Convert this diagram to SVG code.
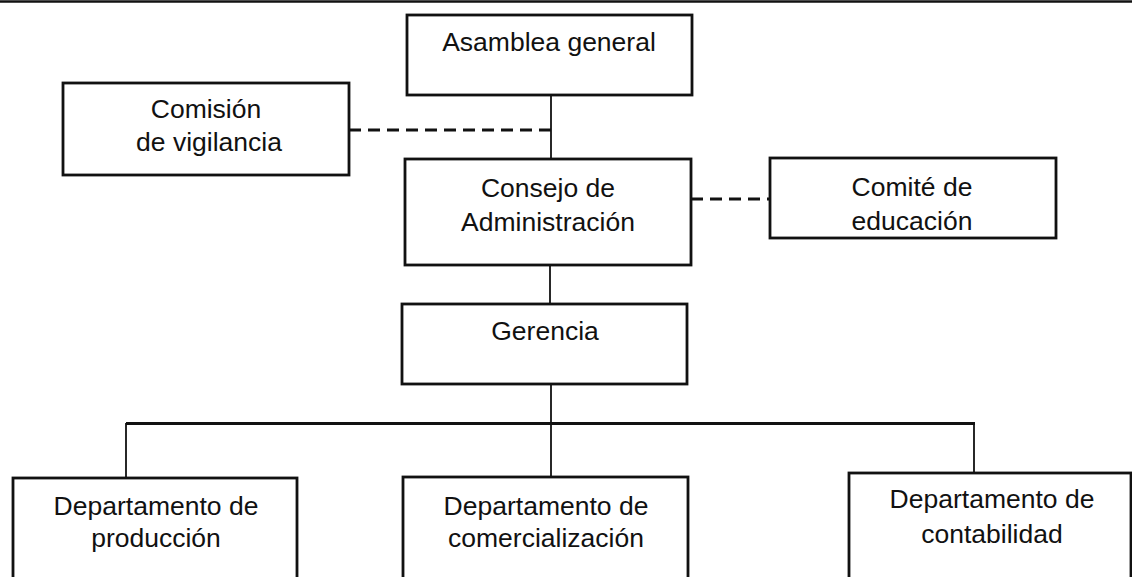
<svg xmlns="http://www.w3.org/2000/svg" width="1132" height="577" viewBox="0 0 1132 577">
<style>
.box{fill:#fff;stroke:#111;stroke-width:2.8}
.t{font-family:"Liberation Sans",Arial,sans-serif;font-size:26.5px;fill:#111;text-anchor:middle}
.ln{stroke:#111;stroke-width:1.8;fill:none}
.bus{stroke:#111;stroke-width:2.8;fill:none}
.dash{stroke:#111;stroke-width:3;fill:none;stroke-dasharray:12 7}
</style>
<rect width="1132" height="577" fill="#fff"/>
<line x1="0" y1="1.5" x2="1132" y2="1.5" stroke="#111" stroke-width="2.5"/>
<g id="connectors">
<line class="ln" x1="551" y1="95" x2="551" y2="159"/>
<line class="dash" x1="349" y1="130" x2="551" y2="130"/>
<line class="dash" x1="691" y1="199" x2="770" y2="199"/>
<line class="ln" x1="550" y1="265" x2="550" y2="304"/>
<line class="ln" x1="551" y1="384" x2="551" y2="477"/>
<line class="bus" x1="126" y1="423.5" x2="975" y2="423.5"/>
<line class="ln" x1="126" y1="423" x2="126" y2="478"/>
<line class="ln" x1="974" y1="423" x2="974" y2="473"/>
</g>
<g id="asamblea">
<rect class="box" x="407" y="15" width="285" height="80"/>
<text class="t" x="549" y="51">Asamblea general</text>
</g>
<g id="comision">
<rect class="box" x="63" y="83" width="286" height="92"/>
<text class="t" x="206" y="118">Comisión</text>
<text class="t" x="209" y="151">de vigilancia</text>
</g>
<g id="consejo">
<rect class="box" x="405" y="159" width="286" height="106"/>
<text class="t" x="548" y="197">Consejo de</text>
<text class="t" x="548" y="231">Administración</text>
</g>
<g id="comite">
<rect class="box" x="770" y="158" width="286" height="80"/>
<text class="t" x="912" y="196">Comité de</text>
<text class="t" x="912" y="230">educación</text>
</g>
<g id="gerencia">
<rect class="box" x="402" y="304" width="285" height="80"/>
<text class="t" x="545" y="340">Gerencia</text>
</g>
<g id="dept-produccion">
<rect class="box" x="13" y="478" width="284" height="110"/>
<text class="t" x="156" y="515">Departamento de</text>
<text class="t" x="156" y="547">producción</text>
</g>
<g id="dept-comercializacion">
<rect class="box" x="403" y="477" width="285" height="110"/>
<text class="t" x="546" y="515">Departamento de</text>
<text class="t" x="546" y="547">comercialización</text>
</g>
<g id="dept-contabilidad">
<rect class="box" x="849" y="473" width="282" height="115"/>
<text class="t" x="992" y="508">Departamento de</text>
<text class="t" x="992" y="543">contabilidad</text>
</g>
</svg>
